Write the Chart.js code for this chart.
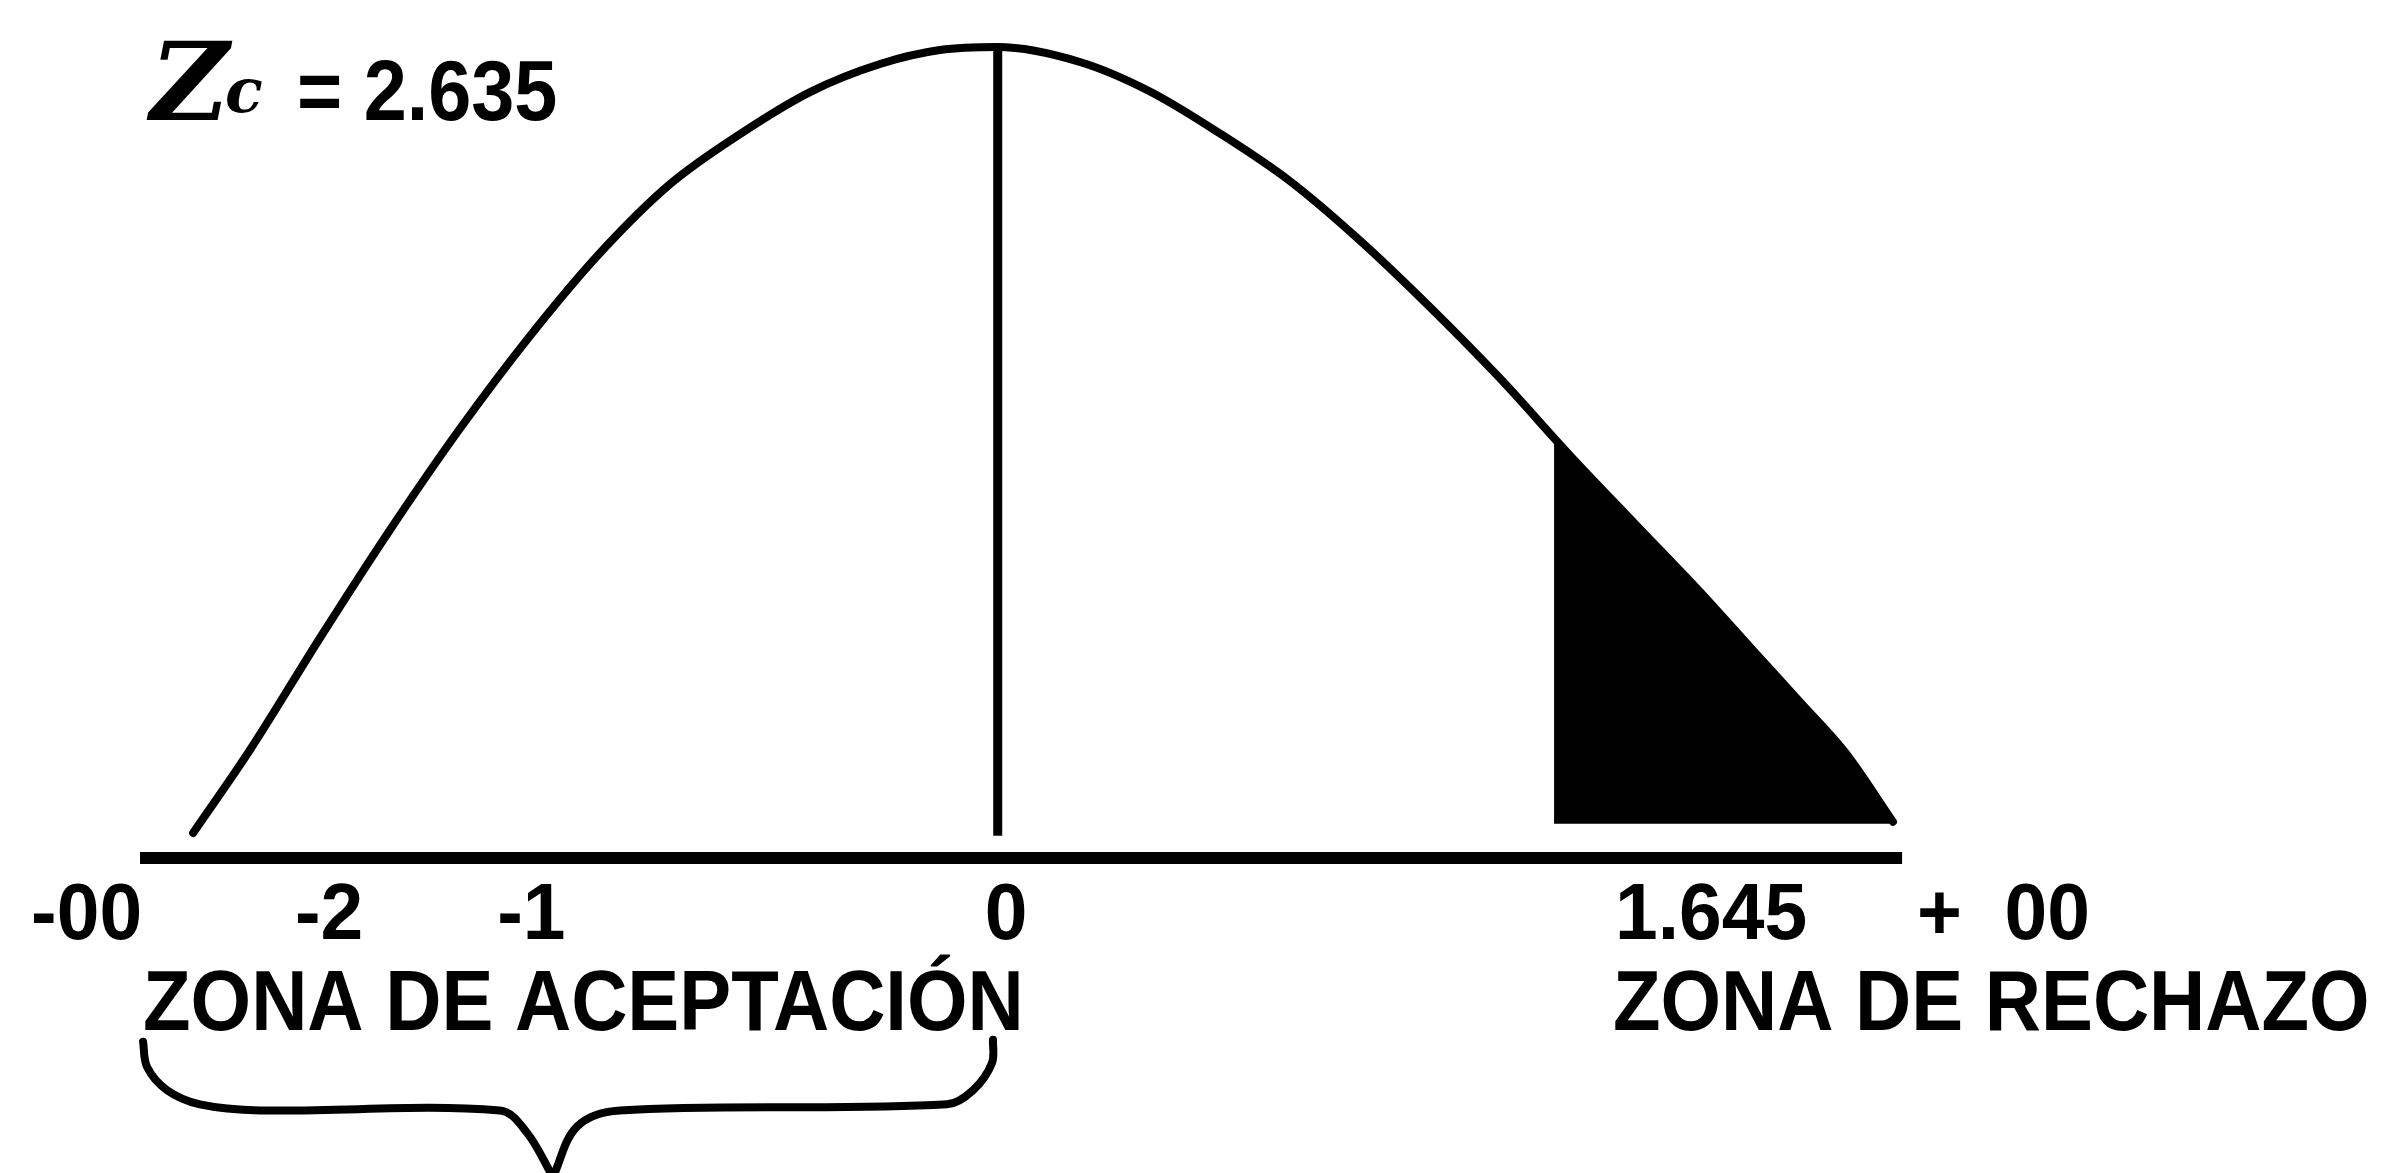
<!DOCTYPE html>
<html>
<head>
<meta charset="utf-8">
<script src="https://cdn.jsdelivr.net/npm/chart.js@4.4.1/dist/chart.umd.min.js"></script>
<style>
html,body{margin:0;padding:0;background:#fff;overflow:hidden}
#wrap{position:relative;width:2381px;height:1173px}
</style>
</head>
<body>
<div id="wrap"><canvas id="c"></canvas></div>
<script>
// bell curve as drawn (x in z units, y in density units)
const CURVE_X = [-2.379,-2.211,-2.004,-1.797,-1.593,-1.383,-1.176,-0.969,-0.762,-0.555,-0.348,-0.171,0,0.243,0.450,0.657,0.864,1.071,1.278,1.485,1.692,1.884,2.077,2.224,2.372,2.505,2.647];
const CURVE_Y = [0.0124,0.0535,0.1090,0.1625,0.2120,0.2586,0.2997,0.3338,0.3586,0.3794,0.3933,0.4002,0.4017,0.3943,0.3797,0.3589,0.3353,0.3059,0.2729,0.2376,0.1994,0.1656,0.1318,0.1046,0.0773,0.0525,0.018];

// rejection zone: right tail from the critical value, under the curve
const Z_CRIT = 1.645;
const SHADE_TOP = 0.207;
const SHADE_FLOOR = 0.017;

// mean line and horizontal axis
const MEAN_X = [0,0];
const MEAN_Y = [0.011,0.402];
const AXIS_X = [-2.536,2.674];
const AXIS_Y = [0,0];

// brace under the acceptance zone
const BRACE_L_X = [-2.527,-2.515,-2.456,-2.359,-2.181,-1.472,-1.392,-1.315];
const BRACE_L_Y = [-0.091,-0.1035,-0.115,-0.122,-0.125,-0.125,-0.136,-0.158];
const BRACE_R_X = [-1.315,-1.244,-1.117,-0.150,-0.073,-0.017,-0.014];
const BRACE_R_Y = [-0.158,-0.133,-0.125,-0.122,-0.115,-0.1015,-0.090];

// texts
const TICK_LABELS = ['-00','-2','-1','0','1.645','+  00'];
const TICK_AT = [-2.858,-2.078,-1.480,-0.038,1.825,2.718];
const TICK_Y = -0.040;
const ZONE_LABELS = ['ZONA DE ACEPTACIÓN','ZONA DE RECHAZO'];
const ZONE_AT = [-2.527,1.819];
const ZONE_Y = -0.085;
const Z_NAME = 'Z', Z_SUB = 'c', Z_VALUE = '= 2.635';
const Z_AT = [-2.506,-2.285,-2.072];
const Z_Y = 0.3655;

const pts = (xs, ys) => xs.map((x, i) => ({x, y: ys[i]}));
const line = (data, w, extra) => Object.assign({data, borderColor:'#000', borderWidth:w, pointRadius:0, fill:false, borderCapStyle:'round', borderJoinStyle:'round'}, extra || {});

const curve = pts(CURVE_X, CURVE_Y);
const shade = [{x:Z_CRIT, y:SHADE_TOP}].concat(curve.filter(p => p.x > Z_CRIT));

const labelPlugin = {
  id: 'labels',
  afterDatasetsDraw(chart) {
    const {ctx, scales:{x, y}} = chart;
    ctx.save();
    ctx.fillStyle = '#000';
    ctx.textBaseline = 'alphabetic';
    ctx.textAlign = 'left';
    const put = (t, xv, yv, font, squeeze) => {
      ctx.font = font;
      const w = ctx.measureText(t).width * squeeze;
      ctx.fillText(t, x.getPixelForValue(xv), y.getPixelForValue(yv), w);
    };
    TICK_LABELS.forEach((t, i) => put(t, TICK_AT[i], TICK_Y, 'bold 80px "Liberation Sans"', 0.96));
    ZONE_LABELS.forEach((t, i) => put(t, ZONE_AT[i], ZONE_Y, 'bold 86px "Liberation Sans"', 0.905));
    put(Z_NAME, Z_AT[0], Z_Y, 'italic bold 108px "DejaVu Serif"', 1);
    put(Z_SUB, Z_AT[1], Z_Y + 0.004, 'italic bold 62px "DejaVu Serif"', 1);
    put(Z_VALUE, Z_AT[2], Z_Y, 'bold 86px "Liberation Sans"', 0.9);
    ctx.restore();
  }
};

new Chart(document.getElementById('c'), {
  type: 'line',
  data: {datasets: [
    {data: shade, borderWidth:0, pointRadius:0, backgroundColor:'#000', fill:{value:SHADE_FLOOR}, cubicInterpolationMode:'monotone'},
    line(curve, 8, {cubicInterpolationMode:'monotone'}),
    line(pts(MEAN_X, MEAN_Y), 9, {borderCapStyle:'butt'}),
    line(pts(AXIS_X, AXIS_Y), 12, {borderCapStyle:'butt'}),
    line(pts(BRACE_L_X, BRACE_L_Y), 8, {tension:0.35}),
    line(pts(BRACE_R_X, BRACE_R_Y), 8, {tension:0.35}),
  ]},
  options: {
    responsive:true, maintainAspectRatio:false, animation:false, devicePixelRatio:1,
    layout:{padding:0},
    plugins:{legend:{display:false}, tooltip:{enabled:false}},
    scales:{
      x:{type:'linear', min:-2.95, max:4.09, display:false},
      y:{type:'linear', min:-0.156, max:0.425, display:false}
    }
  },
  plugins:[labelPlugin]
});
</script>
</body>
</html>
